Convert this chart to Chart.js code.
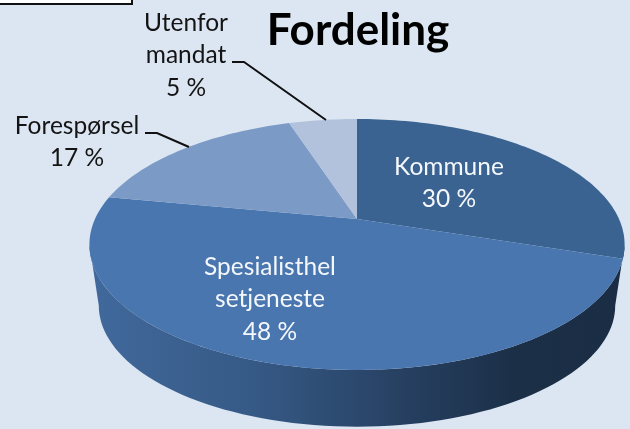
<!DOCTYPE html>
<html lang="no">
<head>
  <meta charset="UTF-8">
  <title>Fordeling</title>
  <script src="https://cdn.jsdelivr.net/npm/chart.js"></script>
  <style>
    html, body { margin: 0; padding: 0; background: #dce6f2; overflow: hidden; }
    #wrap { position: relative; width: 630px; height: 429px; }
    #box { position: absolute; left: -4px; top: -4px; width: 133px; height: 5px; background: #fff; border: 2px solid #111; }
  </style>
</head>
<body>
  <div id="wrap">
    <canvas id="pie" width="630" height="429"></canvas>
    <div id="box"></div>
  </div>

  <script>
    const chartTitle = 'Fordeling';
    const categories = ['Kommune', 'Spesialisthelsetjeneste', 'Forespørsel', 'Utenfor mandat'];
    const categoryLines = [['Kommune'], ['Spesialisthel', 'setjeneste'], ['Forespørsel'], ['Utenfor', 'mandat']];
    const values = [30, 48, 17, 5];
    const sliceColors = ['#3a6391', '#4976af', '#7c9ac6', '#b3c2dc'];

    // perspective of the tilted disc, fitted to the reference
    const cx = 357, apexY = 219, radiusX = 262, liftA = 75.8, persp = -0.2032;
    const wallDrop = 62, wallShrink = 0.965;

    function project(t, shrink, drop) {
      const u = Math.cos(t), v = Math.sin(t);
      const w = 1 + persp * v;
      return [cx + shrink * radiusX * u / w, apexY + drop + shrink * ((liftA * v + apexY) / w - apexY)];
    }

    function wallPath(ctx) {
      const left = Math.PI * 0.935, right = Math.PI * 0.065;
      ctx.beginPath();
      for (let i = 0; i <= 80; i++) {
        const p = project(right + (left - right) * i / 80, 1, 0);
        ctx.lineTo(p[0], p[1]);
      }
      for (let i = 0; i <= 80; i++) {
        const p = project(left + (right - left) * i / 80, wallShrink, wallDrop);
        ctx.lineTo(p[0], p[1]);
      }
      ctx.closePath();
    }

    // label placement: [centre x, first line middle y]
    const labelSpots = [[449, 167], [270, 267], [77, 126], [186, 23]];
    const labelColors = ['#f4f7fb', '#f4f7fb', '#141414', '#141414'];
    const leaders = [
      null, null,
      [[145, 133], [157, 133], [189, 147]],
      [[232, 62], [244, 62], [326, 120]]
    ];

    const tiltedPie = {
      id: 'tiltedPie',
      beforeDatasetsDraw(chart) {
        const ctx = chart.ctx;
        const arcs = chart.getDatasetMeta(0).data;

        // side wall
        const grad = ctx.createLinearGradient(90, 0, 622, 0);
        grad.addColorStop(0, '#41699c');
        grad.addColorStop(0.3, '#365a86');
        grad.addColorStop(0.6, '#263f60');
        grad.addColorStop(0.8, '#1b2f47');
        grad.addColorStop(1, '#1a2d44');
        ctx.fillStyle = grad;
        wallPath(ctx);
        ctx.fill();

        // top face, one slice per arc element
        arcs.forEach((arc, i) => {
          const a = arc.startAngle, b = arc.endAngle;
          const steps = Math.max(8, Math.ceil((b - a) * 40));
          ctx.beginPath();
          ctx.moveTo(cx, apexY);
          for (let s = 0; s <= steps; s++) {
            const p = project(a + (b - a) * s / steps, 1, 0);
            ctx.lineTo(p[0], p[1]);
          }
          ctx.closePath();
          ctx.fillStyle = sliceColors[i];
          ctx.fill();
        });
        return false;
      },
      afterDraw(chart) {
        const ctx = chart.ctx;
        ctx.save();
        ctx.textAlign = 'center';
        ctx.textBaseline = 'middle';

        ctx.fillStyle = '#000';
        ctx.font = 'bold 44px Lato';
        ctx.fillText(chartTitle, 358, 31);

        ctx.font = '24.5px Lato';
        values.forEach((v, i) => {
          const lines = categoryLines[i].concat(v + ' %');
          ctx.fillStyle = labelColors[i];
          lines.forEach((line, n) => {
            ctx.fillText(line, labelSpots[i][0], labelSpots[i][1] + n * 32.5);
          });
        });

        ctx.strokeStyle = '#111';
        ctx.lineWidth = 2;
        leaders.forEach(pts => {
          if (!pts) return;
          ctx.beginPath();
          pts.forEach(p => ctx.lineTo(p[0], p[1]));
          ctx.stroke();
        });
        ctx.restore();
      }
    };

    new Chart(document.getElementById('pie').getContext('2d'), {
      type: 'pie',
      data: {
        labels: categories,
        datasets: [{ data: values, backgroundColor: sliceColors, borderWidth: 0 }]
      },
      options: {
        responsive: false,
        animation: false,
        plugins: { legend: { display: false }, tooltip: { enabled: false } }
      },
      plugins: [tiltedPie]
    });
  </script>
</body>
</html>
